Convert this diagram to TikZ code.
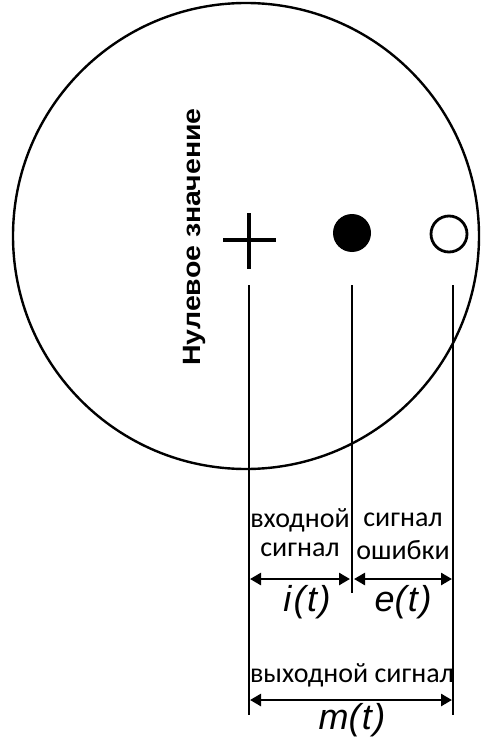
\documentclass[tikz,border=0pt]{standalone}
\usepackage{graphicx}
\usepackage{fontspec}
\setmainfont{Carlito}
\newfontfamily\arialf{Liberation Sans}
\usetikzlibrary{arrows.meta}
\newcommand{\gapk}{\kern1.5pt}
\begin{document}
\begin{tikzpicture}[x=1pt,y=-1pt,
  vline/.style={line width=1.4pt},
  dim/.style={line width=2.6pt,{Triangle[length=11pt,width=12pt]}-{Triangle[length=11pt,width=12pt]}},
  lbl/.style={font=\fontsize{28}{30}\selectfont, inner sep=0pt},
  sym/.style={font=\arialf\itshape\fontsize{36}{38}\selectfont, inner sep=0pt}]
\useasboundingbox (0,0) rectangle (483,738);
\node[circle, draw, line width=2.4pt, minimum size=466pt, inner sep=0pt] (wheel) at (246,236) {};
\node[rotate=90, font=\arialf\bfseries\fontsize{25}{27}\selectfont, inner sep=0pt] (zero) at (194,237) {\scalebox{1.14}[1]{Нулевое значение}};
% plus mark
\coordinate (p) at (249,240);
\draw[line width=4pt] (223,240) -- (276,240);
\draw[line width=4pt] (249,213) -- (249,269);
\node[circle, fill=black, minimum size=38pt, inner sep=0pt] (dot) at (352,233) {};
\node[circle, draw, line width=2.8pt, minimum size=36pt, inner sep=0pt] (ring) at (449,234) {};
% vertical lines
\coordinate (a1) at (249,285); \coordinate (a2) at (249,715);
\coordinate (b1) at (352,285); \coordinate (b2) at (352,593);
\coordinate (c1) at (453,285); \coordinate (c2) at (453,715);
\draw[vline] (a1) -- (a2);
\draw[vline] (b1) -- (b2);
\draw[vline] (c1) -- (c2);
% dimension arrows
\coordinate (ia) at (250,579); \coordinate (ib) at (350,579);
\coordinate (ea) at (354,579); \coordinate (eb) at (452,579);
\coordinate (ma) at (250,700); \coordinate (mb) at (452,700);
\draw[dim] (ia) -- (ib);
\draw[dim] (ea) -- (eb);
\draw[dim] (ma) -- (mb);
\node[lbl] (in1) at (300,520) {входной};
\node[lbl] (in2) at (300,550) {сигнал};
\node[lbl] (er1) at (403,520) {сигнал};
\node[lbl] (er2) at (403,550) {ошибки};
\node[sym] (it) at (307,602) {i\kern2.5pt(\gapk t\gapk)};
\node[sym] (et) at (403,602) {e(\gapk t\gapk)};
\node[lbl] (out) at (352,675) {выходной сигнал};
\node[sym] (mt) at (352,720) {m(\gapk t\gapk)};
\end{tikzpicture}
\end{document}
